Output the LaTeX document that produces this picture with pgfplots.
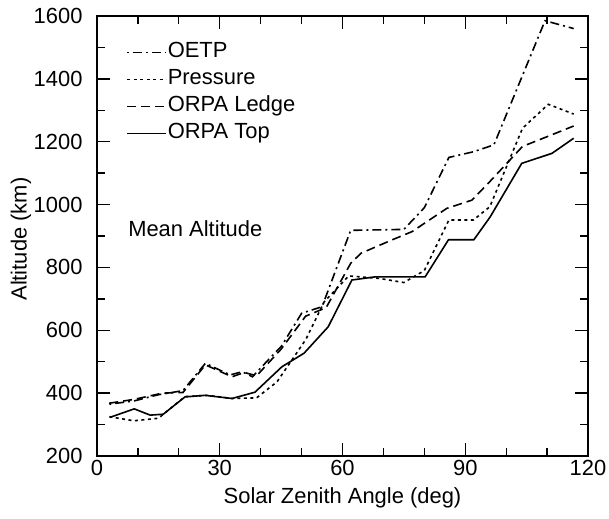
\documentclass[border=0pt]{standalone}
\usepackage{fontspec}
\setmainfont{Liberation Sans}
\usepackage{pgfplots}
\pgfplotsset{compat=1.18}
\begin{document}
\fontsize{22}{26}\selectfont
\begin{tikzpicture}
\begin{axis}[
  scale only axis, width=491bp, height=440bp,
  xmin=0, xmax=120, ymin=200, ymax=1600,
  xtick={0,30,...,120}, minor xtick={10,20,40,50,70,80,100,110},
  ytick={200,400,...,1600}, minor ytick={300,500,...,1500},
  tick align=inside, major tick length=13bp, minor tick length=8bp,
  every tick/.style={black, line width=1.3bp},
  axis line style={line width=1.8bp},
  /pgf/number format/assume math mode=true,
  /pgf/number format/1000 sep={},
  tick label style={font=\fontsize{22}{26}\selectfont},
  yticklabel style={xshift=-7bp},
  xticklabel style={yshift=3bp},
  label style={font=\fontsize{22}{26}\selectfont},
  xlabel={Solar Zenith Angle (deg)},
  ylabel={Altitude (km)},
  xlabel style={at={(axis description cs:0.5,-0.094)}, anchor=center},
  ylabel style={at={(axis description cs:-0.155,0.493)}, anchor=center},
  legend image code/.code={\draw[#1] (0bp,0bp) -- (39bp,0bp);},
  legend style={at={(0.053,0.946)}, anchor=north west, draw=none, fill=none,
    font=\fontsize{22}{26}\selectfont, row sep=6bp,
    nodes={inner sep=1bp, text height=15bp, text depth=4bp}},
  legend cell align=left,
]
\addplot[black, line width=1.6bp, dash pattern=on 2bp off 4bp on 9bp off 4bp] coordinates {
(3,365) (9,375) (15,395) (21,408) (26.5,495) (32.5,458) (35.5,468) (38,452) (42.3,512) (45,548) (50,654) (55,675)
(62,918) (75,921) (80,990) (86,1150) (92,1168) (97,1190) (109.5,1585) (116.5,1560)};
\addlegendentry{OETP}
\addplot[black, line width=1.6bp, dash pattern=on 3bp off 3.5bp] coordinates {
(3,325) (9,312) (15,320) (21.5,389) (27,393) (33,383) (39,385) (44,436) (51,570) (55.5,690)
(61.5,773) (69,765) (75,752) (80,790) (86,951) (92,951) (96,993) (104,1243) (110.3,1319) (116.5,1288)};
\addlegendentry{Pressure}
\addplot[black, line width=1.6bp, dash pattern=on 9bp off 5bp] coordinates {
(3,368) (9,380) (16,400) (21,402) (26.5,490) (33,452) (36,466) (39,455) (45,540) (51,645) (56,672)
(62,813) (64.5,845) (72,887) (77,914) (85.5,988) (91.6,1014) (96,1073) (104,1185) (110,1216) (116.5,1250)};
\addlegendentry{ORPA Ledge}
\addplot[black, line width=1.6bp] coordinates {
(3.2,323) (9.1,350) (13,330) (16.2,333) (21.5,388) (26.4,393) (33,383) (38.6,403) (45.2,484)
(50.6,527) (56.5,611) (62.3,760) (68,770) (80.2,770) (85.9,888) (92.1,888) (96.1,961)
(103.8,1131) (111.2,1163) (116.5,1211)};
\addlegendentry{ORPA Top}
\node[anchor=west, inner sep=0pt] at (axis cs:7.6,922) {Mean Altitude};
\end{axis}
\pgfresetboundingbox
\path (current axis.south west) ++(-97bp,-63bp) rectangle ++(609bp,519bp);
\end{tikzpicture}
\end{document}
